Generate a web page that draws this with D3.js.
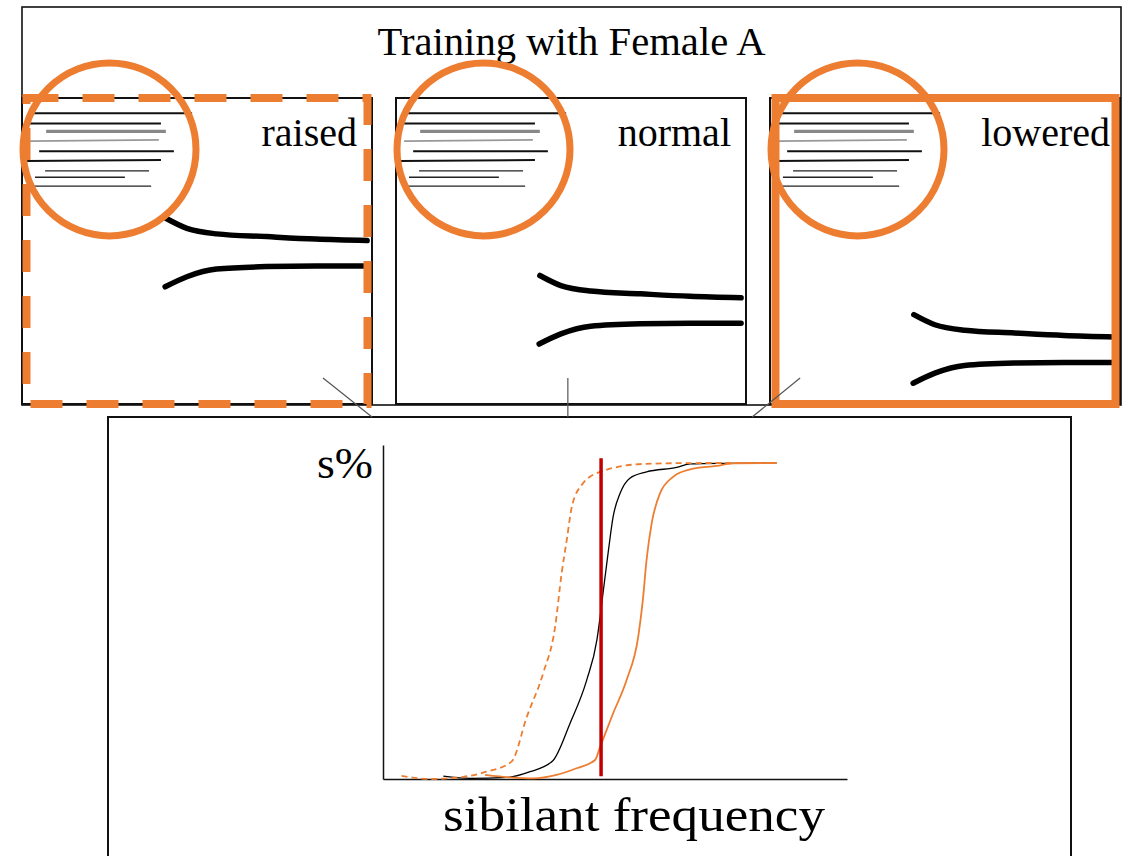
<!DOCTYPE html>
<html>
<head>
<meta charset="utf-8">
<script src="https://cdn.jsdelivr.net/npm/d3@7"></script>
<style>
  html, body { margin: 0; padding: 0; background: #fff; }
  svg { display: block; }
  text { font-family: "Liberation Serif", "Times New Roman", serif; fill: #000; }
</style>
</head>
<body>
<svg id="chart" width="1130" height="856"></svg>
<script>
// ---------------- data ----------------
const title = "Training with Female A";
const categories = ["raised", "normal", "lowered"];
// vertical shift of the category boundary curves per panel (panel units, 0-100)
const boundaryShift = [0, 18.7, 31.5];
// upper / lower boundary curve shapes (panel units x 0-100, y 0-100)
const upperCurve = [[41.1, 39.3], [47.1, 42.6], [55.6, 44.4], [69.9, 45.3], [84, 46.1], [98.6, 46.6]];
const lowerCurve = [[40.9, 61.7], [47.1, 58.4], [55.6, 55.9], [69.9, 55.1], [84, 54.9], [98.6, 54.9]];
// spectrogram-like stroke lines inside the magnifier circle: [x1, y1, x2, y2, tone]
const spectroLines = [
  [2.3, 5.0, 48.6, 5.0, "k"],
  [2.3, 8.3, 39.7, 8.3, "k"],
  [6.9, 10.9, 41.1, 10.9, "g"],
  [2.3, 14.1, 39.1, 13.7, "l"],
  [4.9, 17.4, 43.4, 17.4, "k"],
  [1.1, 20.6, 39.7, 20.3, "k"],
  [6.6, 23.8, 36.3, 23.8, "t"],
  [3.7, 25.9, 29.4, 25.9, "t"],
  [3.1, 28.8, 36.9, 28.8, "t"]
];
const magnifierCenter = [25, 16.8];
// connectors from each panel (panel units) to the bottom chart
const connectorFrom = [[86, 91.5], [49.1, 91.5], [8.6, 91.5]];
const connectorTo = [100, 49.1, -5.1];

// bottom chart: identification curves (x = sibilant frequency 0-100, y = s% 0-100)
const normalCurve = [[13.0, 0.9], [18.75, 0.2], [26.7, 0.5], [31.7, 2.3], [36.6, 5.8], [40.3, 17.6], [43.9, 31.3], [46.1, 44.0], [46.8, 51.4], [47.5, 59.8], [48.6, 72.5], [49.6, 83.0], [51.1, 90.4], [53.2, 95.2], [56.8, 97.2], [63.3, 98.6], [66.2, 99.7], [73.3, 99.9], [84.8, 100]];
const raisedCurve = [[4.0, 1.0], [10.1, 0.0], [17.3, 0.7], [22.3, 2.3], [27.7, 5.5], [31.0, 19.7], [34.5, 33.4], [37.1, 48.2], [38.5, 65.1], [39.6, 75.6], [40.7, 86.2], [42.8, 93.0], [46.8, 97.2], [56.1, 99.7], [69.0, 100], [84.8, 100]];
const loweredCurve = [[22.0, 1.3], [27.4, 0.5], [32.4, 0.2], [37.4, 1.3], [41.7, 3.4], [45.7, 6.0], [46.8, 10.2], [49.6, 20.8], [52.5, 31.3], [55.0, 45.0], [56.0, 56.6], [56.8, 69.3], [57.9, 80.9], [59.7, 90.4], [62.6, 95.7], [66.2, 98.0], [71.9, 99.1], [75.5, 99.9], [84.8, 100]];
const boundaryX = 47.0;
const boundaryY = [0.9, 101.5];
const yLabel = "s%";
const xLabel = "sibilant frequency";

// ---------------- layout ----------------
const ORANGE = "#ED7D31";
const RED = "#C00000";
const svg = d3.select("#chart");

const outer = { x0: 22, x1: 1121, y0: 7, y1: 405 };
const panelTop = 98, panelBottom = 404;
const bottomBox = { x0: 108, x1: 1071, y0: 417 };

const band = d3.scaleBand().domain(categories).range([22, 1120]).paddingInner(24 / 374).paddingOuter(0);
const py = d3.scaleLinear().domain([0, 100]).range([panelTop, panelBottom]);
const pxFor = c => d3.scaleLinear().domain([0, 100]).range([band(c), band(c) + band.bandwidth()]);

// outer box
svg.append("rect").attr("x", outer.x0).attr("y", outer.y0)
  .attr("width", outer.x1 - outer.x0).attr("height", outer.y1 - outer.y0)
  .attr("fill", "none").attr("stroke", "#111").attr("stroke-width", 1.6);

svg.append("text").attr("x", (outer.x0 + outer.x1) / 2).attr("y", 55)
  .attr("text-anchor", "middle").attr("font-size", 40)
  .attr("textLength", 388).attr("lengthAdjust", "spacingAndGlyphs").text(title);

// bottom box
svg.append("rect").attr("x", bottomBox.x0).attr("y", bottomBox.y0)
  .attr("width", bottomBox.x1 - bottomBox.x0).attr("height", 600)
  .attr("fill", "#fff").attr("stroke", "#111").attr("stroke-width", 2);

const toneStyle = {
  k: { c: "#111", w: 2 },
  g: { c: "#888", w: 3.2 },
  l: { c: "#999", w: 1.8 },
  t: { c: "#222", w: 1.3 }
};

const frameStyle = {
  raised: { dash: "32,24", inset: 4.5 },
  lowered: { dash: null, inset: 5.5 }
};

categories.forEach((c, i) => {
  const px = pxFor(c);
  const g = svg.append("g").attr("class", "panel-" + c);
  // panel black box
  g.append("rect").attr("x", band(c)).attr("y", panelTop)
    .attr("width", band.bandwidth()).attr("height", panelBottom - panelTop)
    .attr("fill", "#fff").attr("stroke", "#111").attr("stroke-width", 2);

  // connector
  svg.append("line")
    .attr("x1", px(connectorFrom[i][0])).attr("y1", py(connectorFrom[i][1]))
    .attr("x2", px(connectorTo[i])).attr("y2", bottomBox.y0)
    .attr("stroke", "#555").attr("stroke-width", 1.2);

  // spectrogram lines
  g.selectAll("line.sp").data(spectroLines).join("line").attr("class", "sp")
    .attr("x1", d => px(d[0])).attr("y1", d => py(d[1]))
    .attr("x2", d => px(d[2])).attr("y2", d => py(d[3]))
    .attr("stroke", d => toneStyle[d[4]].c).attr("stroke-width", d => toneStyle[d[4]].w);

  // boundary curves
  const line = d3.line().x(d => px(d[0])).y(d => py(d[1] + boundaryShift[i])).curve(d3.curveMonotoneX);
  [upperCurve, lowerCurve].forEach(shape => {
    g.append("path").attr("d", line(shape)).attr("fill", "none")
      .attr("stroke", "#000").attr("stroke-width", 5.5).attr("stroke-linecap", "round");
  });

  // orange frame
  const fs = frameStyle[c];
  if (fs) {
    g.append("rect").attr("x", band(c) + fs.inset).attr("y", panelTop)
      .attr("width", band.bandwidth() - 2 * fs.inset + (c === "lowered" ? 1 : 0)).attr("height", panelBottom - panelTop)
      .attr("fill", "none").attr("stroke", ORANGE).attr("stroke-width", 8)
      .attr("stroke-dasharray", fs.dash);
  }

  // magnifier circle
  g.append("circle").attr("cx", px(magnifierCenter[0])).attr("cy", py(magnifierCenter[1]))
    .attr("r", 86.5).attr("fill", "none").attr("stroke", ORANGE).attr("stroke-width", 7);

  // label
  g.append("text").attr("x", band(c) + band.bandwidth() - (c === "lowered" ? 10 : 15)).attr("y", 146)
    .attr("text-anchor", "end").attr("font-size", 40).text(c);
});

// ---------------- bottom chart ----------------
const x = d3.scaleLinear().domain([0, 100]).range([383, 847]);
const y = d3.scaleLinear().domain([0, 105.7]).range([779, 445]);

const axG = svg.append("g");
axG.append("g").attr("transform", `translate(0,${y(0)})`)
  .call(d3.axisBottom(x).ticks(0).tickSizeOuter(0))
  .call(s => s.select(".domain").attr("stroke", "#111").attr("stroke-width", 1.5));
axG.append("g").attr("transform", `translate(${x(0)},0)`)
  .call(d3.axisLeft(y).ticks(0).tickSizeOuter(0))
  .call(s => s.select(".domain").attr("stroke", "#111").attr("stroke-width", 1.5));

const cl = d3.line().x(d => x(d[0])).y(d => y(d[1])).curve(d3.curveMonotoneX);
svg.append("path").attr("d", cl(normalCurve)).attr("fill", "none").attr("stroke", "#000").attr("stroke-width", 1.3);
svg.append("path").attr("d", cl(raisedCurve)).attr("fill", "none").attr("stroke", ORANGE).attr("stroke-width", 1.8).attr("stroke-dasharray", "6,4");
svg.append("path").attr("d", cl(loweredCurve)).attr("fill", "none").attr("stroke", ORANGE).attr("stroke-width", 1.8);

svg.append("line").attr("x1", x(boundaryX)).attr("x2", x(boundaryX))
  .attr("y1", y(boundaryY[0])).attr("y2", y(boundaryY[1]))
  .attr("stroke", RED).attr("stroke-width", 3.5);

svg.append("text").attr("x", 373).attr("y", 478).attr("text-anchor", "end")
  .attr("font-size", 44).attr("textLength", 56).attr("lengthAdjust", "spacingAndGlyphs").text(yLabel);
svg.append("text").attr("x", 634).attr("y", 831).attr("text-anchor", "middle")
  .attr("font-size", 49).attr("textLength", 382).attr("lengthAdjust", "spacingAndGlyphs").text(xLabel);
</script>
</body>
</html>
